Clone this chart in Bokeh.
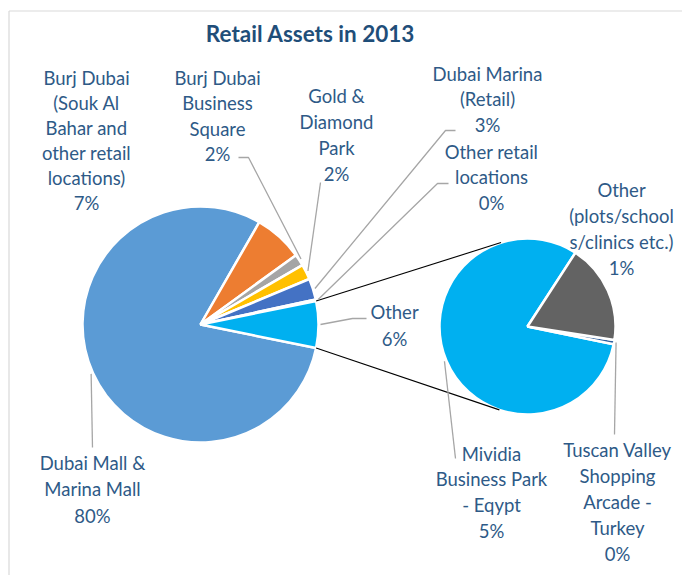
import math
from bokeh.plotting import figure
from bokeh.models import Range1d
from bokeh.embed import file_html
from bokeh.resources import INLINE
from bokeh.core.properties import value

# ---------------- data ----------------
title_text = "Retail Assets in 2013"

main_labels = [
    "Dubai Mall &\nMarina Mall",
    "Burj Dubai\n(Souk Al\nBahar and\nother retail\nlocations)",
    "Burj Dubai\nBusiness\nSquare",
    "Gold &\nDiamond\nPark",
    "Dubai Marina\n(Retail)",
    "Other retail\nlocations",
    "Other",
]
main_values = [80.1, 6.7, 1.6, 2.1, 2.9, 0.2, 6.4]
main_colors = ["#5B9BD5", "#ED7D31", "#A5A5A5", "#FFC000", "#4472C4", "#70AD47", "#00B0F0"]

sec_labels = [
    "Mividia\nBusiness Park\n- Eqypt",
    "Tuscan Valley\nShopping\nArcade -\nTurkey",
    "Other\n(plots/school\ns/clinics etc.)",
]
sec_values = [5.18, 0.05, 1.17]
sec_colors = ["#00B0F0", "#2E5F9E", "#636363"]

# ---------------- layout ----------------
PW, PH = 682, 575
def Y(py):
    return PH - py

MC = (200, Y(324)); MR = 118
SC = (527, Y(326)); SR = 88
SEC_START = 57.0

FONT = "Lato"
LABEL_COLOR = "#2E5A87"
TITLE_COLOR = "#1F4E79"
LEADER = "#A6A6A6"

# label anchors: (center x, first line y, line spacing, leader end path)
main_anchor = [
    (92, 462, 26.5, [(92, 447)]),
    (86, 77, 25.0, None),
    (217, 77, 25.5, [(248, 157), (238, 157)]),
    (336, 95, 26.0, [(320, 182)]),
    (487, 73, 25.5, [(445, 130), (455, 130)]),
    (491, 151, 25.5, [(437, 183), (448, 183)]),
    (394, 311, 27.0, [(352, 318), (366, 318)]),
]
sec_anchor = [
    (491, 453, 25.8, [(455, 458)]),
    (617, 449, 26.0, [(614, 434)]),
    (621, 189, 26.0, None),
]

p = figure(width=PW, height=PH, output_backend="svg", toolbar_location=None,
           x_range=Range1d(0, PW), y_range=Range1d(0, PH),
           x_axis_location=None, y_axis_location=None, min_border=0)
p.grid.visible = False
p.outline_line_color = None
p.background_fill_color = "white"
p.border_fill_color = "white"

# chart border (top and left visible)
p.line([8.5, 700], [Y(10.5), Y(10.5)], line_color="#D9D9D9", line_width=1.2)
p.line([8.5, 8.5], [Y(10.5), -10], line_color="#D9D9D9", line_width=1.2)

# ---- main pie (clockwise, "Other" centred on the right) ----
a = -main_values[-1] / 2 * 3.6
m_start, m_end, m_mid = [], [], []
for v in main_values:
    s = a - v * 3.6
    m_start.append(math.radians(s)); m_end.append(math.radians(a))
    m_mid.append(math.radians((s + a) / 2))
    a = s
p.wedge(x=[MC[0]] * len(main_values), y=[MC[1]] * len(main_values), radius=MR,
        start_angle=m_start, end_angle=m_end, fill_color=main_colors,
        line_color="white", line_width=2.5)

# ---- secondary pie ----
tot = sum(sec_values)
b = SEC_START
s_start, s_end, s_mid = [], [], []
for v in sec_values:
    e = b + v / tot * 360
    s_start.append(math.radians(b)); s_end.append(math.radians(e))
    s_mid.append(math.radians((b + e) / 2))
    b = e
p.wedge(x=[SC[0]] * 3, y=[SC[1]] * 3, radius=SR,
        start_angle=s_start, end_angle=s_end, fill_color=sec_colors,
        line_color="white", line_width=2.5)

# ---- connector lines (tangent) ----
def tangent(P, upper):
    dx, dy = SC[0] - P[0], SC[1] - P[1]
    dist = math.hypot(dx, dy)
    phi = math.atan2(dy, dx)
    al = math.asin(SR / dist)
    L = math.sqrt(dist ** 2 - SR ** 2)
    ang = phi + al if upper else phi - al
    return (P[0] + L * math.cos(ang), P[1] + L * math.sin(ang))

top_a = m_end[-1]; bot_a = m_start[-1]
Pt = (MC[0] + MR * math.cos(top_a), MC[1] + MR * math.sin(top_a))
Pb = (MC[0] + MR * math.cos(bot_a), MC[1] + MR * math.sin(bot_a))
Tt = tangent(Pt, True); Tb = tangent(Pb, False)
p.segment(x0=[Pt[0], Pb[0]], y0=[Pt[1], Pb[1]], x1=[Tt[0], Tb[0]], y1=[Tt[1], Tb[1]],
          line_color="black", line_width=1.1)

# ---- labels and leaders ----
tx, ty, tt = [], [], []
def add_label(lbl, v, anchor, center, radius, mid):
    cx, y0, sp, path = anchor
    lines = lbl.split("\n") + [f"{round(v)}%"]
    for i, ln in enumerate(lines):
        tx.append(cx); ty.append(Y(y0 + i * sp)); tt.append(ln)
    if path:
        sx = center[0] + (radius + 2) * math.cos(mid)
        sy = center[1] + (radius + 2) * math.sin(mid)
        xs = [sx] + [q[0] for q in path]
        ys = [sy] + [Y(q[1]) for q in path]
        p.line(xs, ys, line_color=LEADER, line_width=1.3)

for lbl, v, anc, mid in zip(main_labels, main_values, main_anchor, m_mid):
    add_label(lbl, v, anc, MC, MR, mid)
for lbl, v, anc, mid in zip(sec_labels, sec_values, sec_anchor, s_mid):
    add_label(lbl, v, anc, SC, SR, mid)

p.text(x=tx, y=ty, text=tt, text_font=value(FONT), text_font_size="18.5px",
       text_color=LABEL_COLOR, text_align="center", text_baseline="middle")

p.text(x=[310], y=[Y(33)], text=[title_text], text_font=value(FONT),
       text_font_size="22.5px", text_font_style="bold", text_color=TITLE_COLOR,
       text_align="center", text_baseline="middle")

open("out.html", "w").write(file_html(p, INLINE))
